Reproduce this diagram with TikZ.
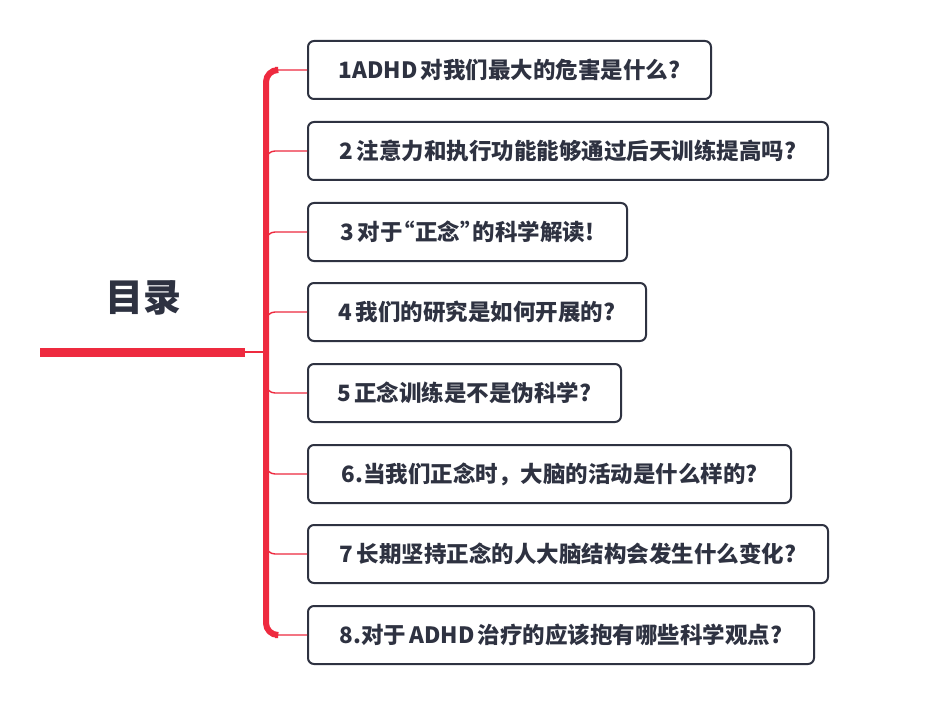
\documentclass[tikz,border=0pt]{standalone}
\usepackage{fontspec}
\setmainfont{Noto Sans CJK SC}
\definecolor{mred}{HTML}{EE2A3F}
\definecolor{mdark}{HTML}{2E3241}
\newcommand{\gap}{\kern3pt}
\begin{document}
\begin{tikzpicture}[x=1pt,y=-1pt,
  topic/.style={draw=mdark,line width=2pt,rounded corners=6pt,fill=white,
    anchor=west,minimum height=58pt,inner xsep=0pt,align=center,
    font=\fontsize{22.5}{26}\selectfont\bfseries,text=mdark},
  branch/.style={draw=mred,line width=1.4pt,rounded corners=9pt}]
\useasboundingbox[fill=white] (0,0) rectangle (926,722);
\node[font=\fontsize{38}{44}\selectfont\bfseries,text=mdark] (title) at (143,298) {目录};
\coordinate (hubL) at (40,352);
\coordinate (hubR) at (245,352);
\coordinate (hub) at (266,352);
\node[topic,minimum width=403pt] (t1) at (307,70) {1ADHD\gap 对我们最大的危害是什么?};
\node[topic,minimum width=520pt] (t2) at (307,151) {2\gap 注意力和执行功能能够通过后天训练提高吗?};
\node[topic,minimum width=319pt] (t3) at (307,232) {3\gap 对于\kern-10pt“正念”\kern-10pt的科学解读!};
\node[topic,minimum width=338pt] (t4) at (307,312) {4\gap 我们的研究是如何开展的?};
\node[topic,minimum width=313pt] (t5) at (307,393) {5\gap 正念训练是不是伪科学?};
\node[topic,minimum width=483pt] (t6) at (307,474) {6.当我们正念时，大脑的活动是什么样的?};
\node[topic,minimum width=520pt] (t7) at (307,554) {7\gap 长期坚持正念的人大脑结构会发生什么变化?};
\node[topic,minimum width=506pt] (t8) at (307,635) {8.对于\gap ADHD\gap 治疗的应该抱有哪些科学观点?};
\draw[mred,line width=9pt] (hubL) -- (hubR);
\draw[mred,line width=1.4pt] (hubR) -- (hub);
\foreach \t in {t1,t2,t3,t4,t5,t6,t7,t8}{
  \draw[branch] (hub) |- (\t.west);
}
\draw[mred,line width=6pt,rounded corners=12pt] (t1.west) ++(-32,0) -- ++(-9,0) -- ([xshift=-41pt]t8.west) -- ++(9,0);
\end{tikzpicture}
\end{document}
